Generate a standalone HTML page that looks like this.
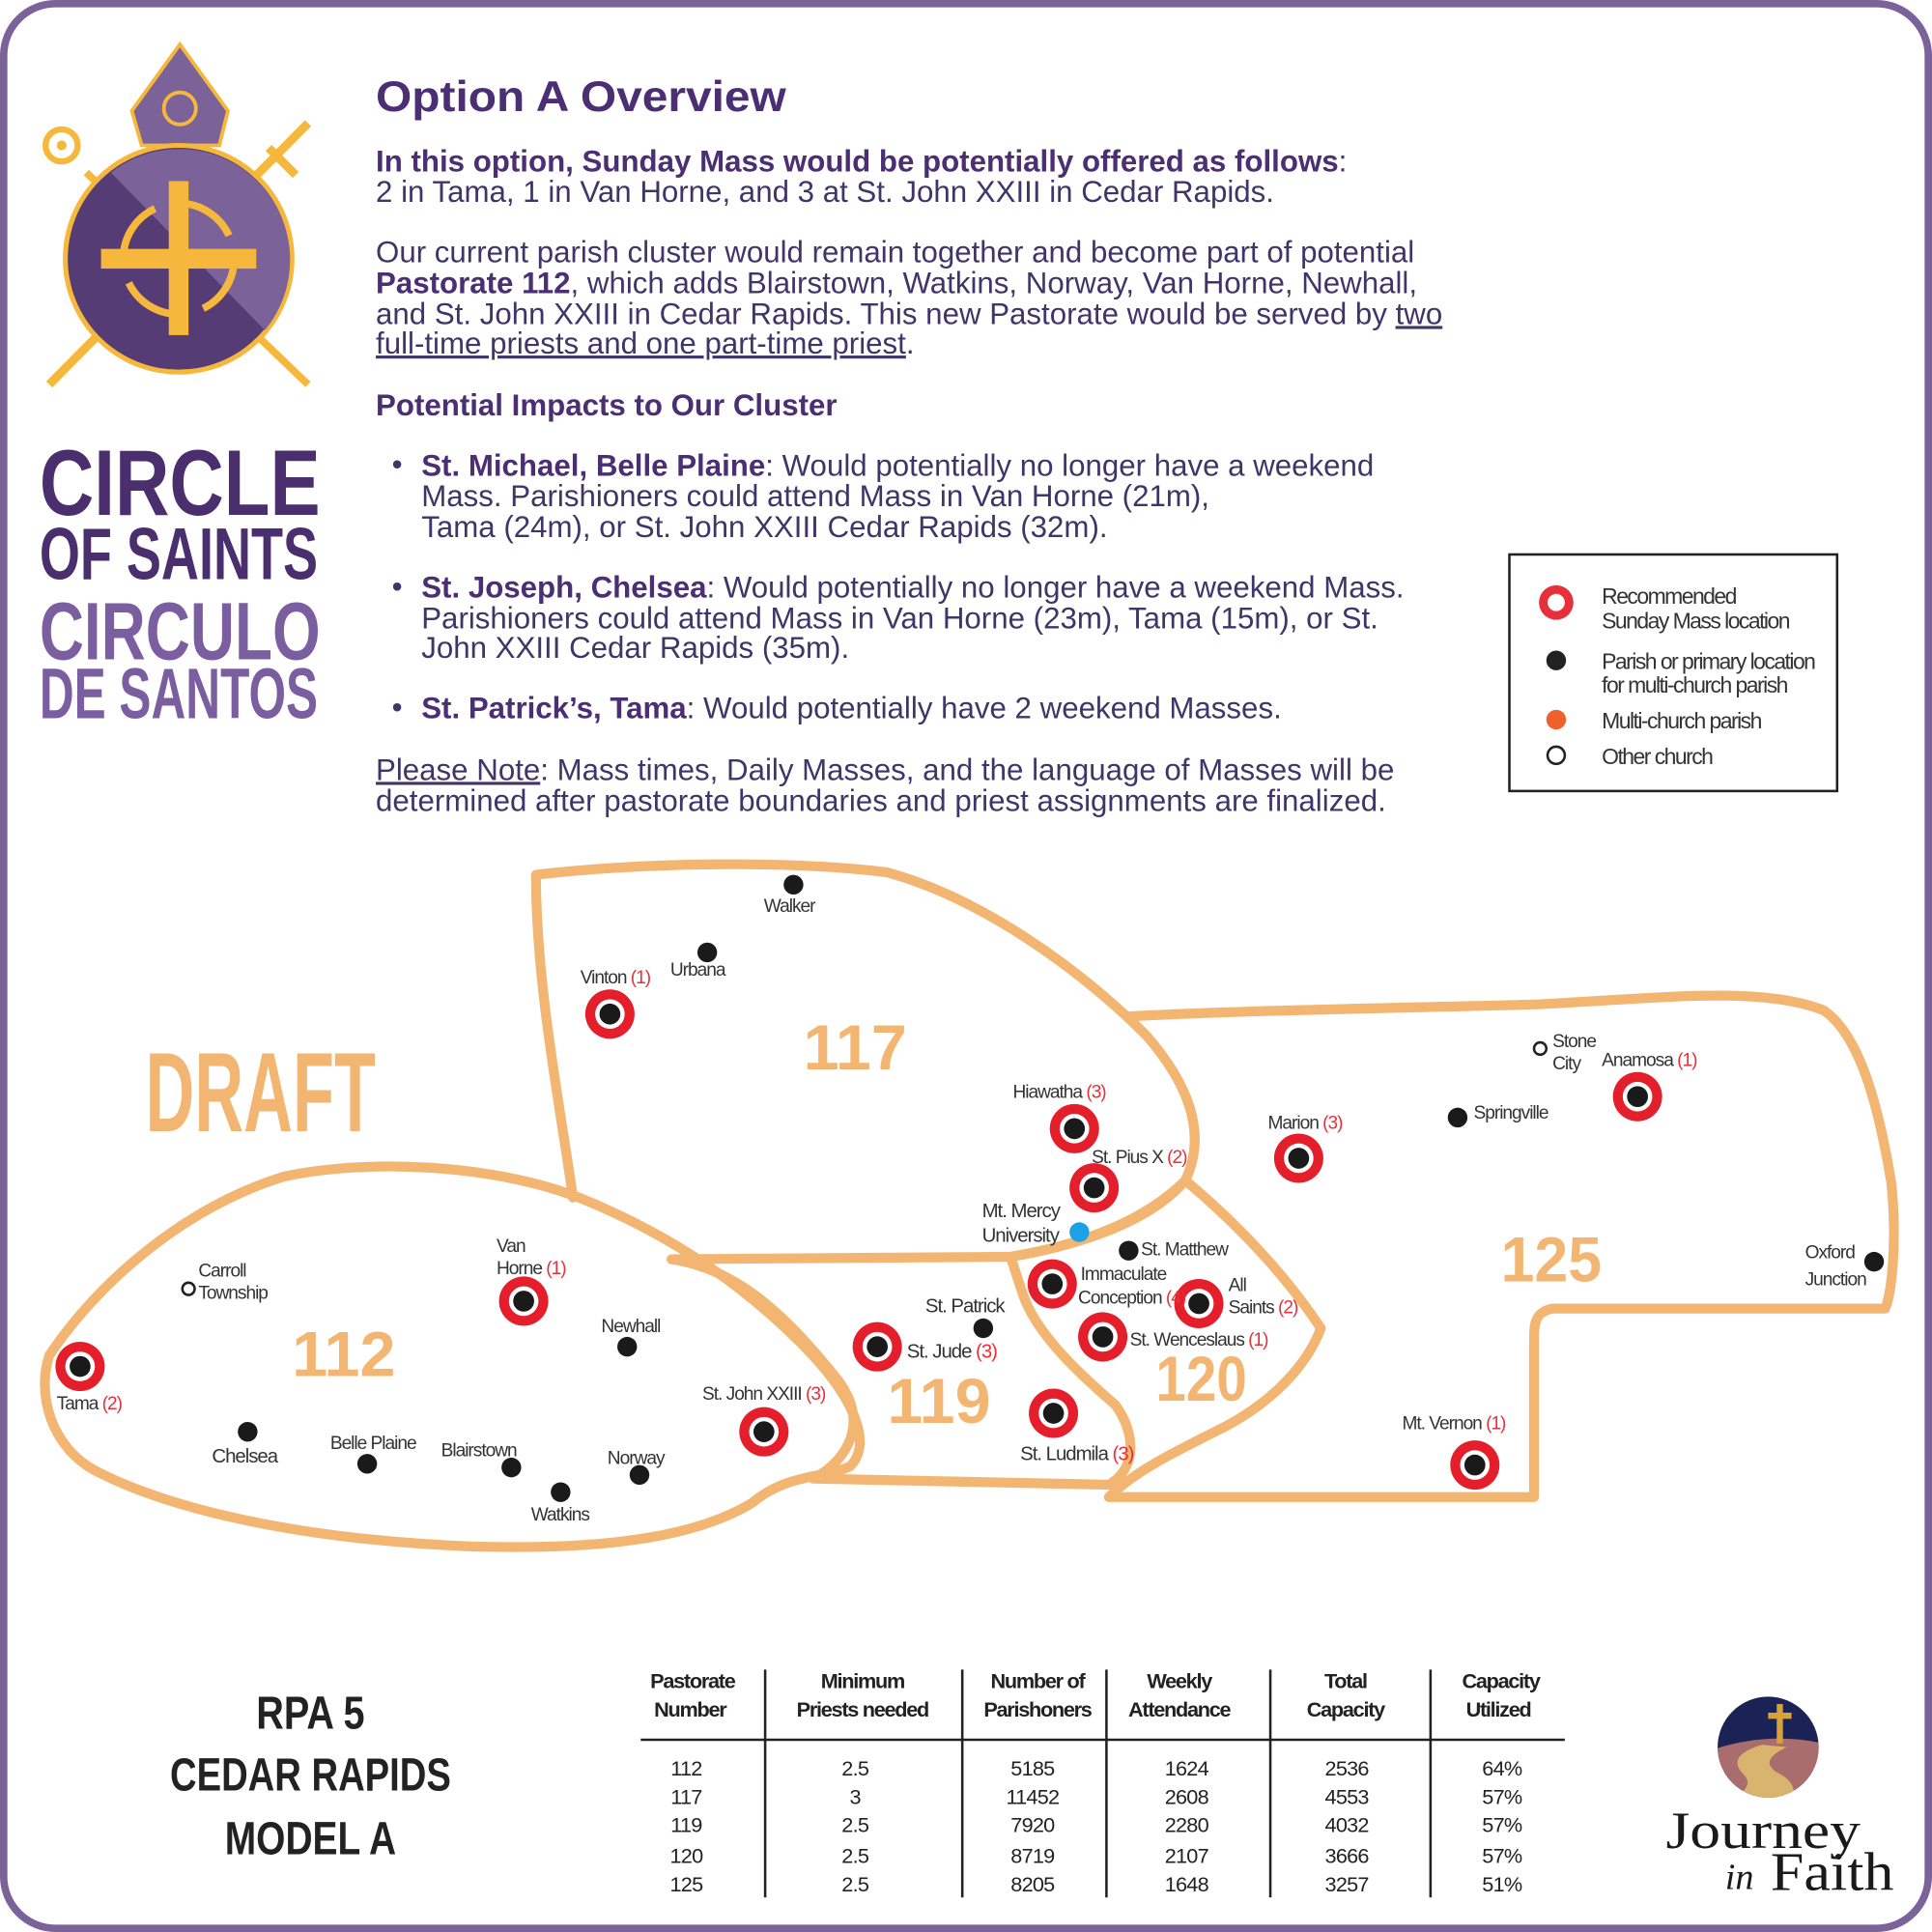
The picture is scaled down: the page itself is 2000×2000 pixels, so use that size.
<!DOCTYPE html>
<html><head><meta charset="utf-8"><style>
html,body{margin:0;padding:0;background:#fff}
svg{display:block}
.b{font-family:"Liberation Sans",sans-serif;fill:#3f3568;font-size:24.5px}
.h{font-weight:bold;fill:#4b2e73}
.n{font-family:"Liberation Sans Narrow","Liberation Sans",sans-serif;font-size:15px;fill:#333;letter-spacing:-0.8px}
.r{fill:#e8303a}
.big{font-family:"Liberation Sans Narrow","Liberation Sans",sans-serif;font-weight:bold;fill:#f3b672}
.t{font-family:"Liberation Sans Narrow","Liberation Sans",sans-serif;font-size:17px;fill:#222;letter-spacing:-0.6px}
.tb{font-weight:bold;letter-spacing:-1px}
</style></head><body>
<svg width="2000" height="2000" viewBox="0 0 1568 1568" xmlns="http://www.w3.org/2000/svg">
<rect x="3" y="3" width="1562" height="1562" rx="42" fill="#fff" stroke="#7a6399" stroke-width="6"/>

<!-- Logo -->
<g>
 <line x1="40" y1="312" x2="250" y2="100" stroke="#f6b83c" stroke-width="7"/>
 <line x1="218" y1="120" x2="240" y2="142" stroke="#f6b83c" stroke-width="7"/>
 <line x1="250" y1="312" x2="70" y2="140" stroke="#f6b83c" stroke-width="6"/>
 <circle cx="50" cy="118" r="13" fill="none" stroke="#f6b83c" stroke-width="5"/>
 <circle cx="50" cy="118" r="4" fill="#f6b83c"/>
 <polygon points="146,36 185,90 178,118 115,118 107,90" fill="#7b6299" stroke="#f6b83c" stroke-width="3"/>
 <circle cx="146" cy="88" r="13" fill="none" stroke="#f6b83c" stroke-width="3"/>
 <circle cx="145" cy="210" r="92" fill="#563c74" stroke="#f6b83c" stroke-width="4"/>
 <path d="M90,140 A90,90 0 0 1 215,268 Z" fill="#7b6299"/>
 <circle cx="145" cy="210" r="45" fill="none" stroke="#f6b83c" stroke-width="6" stroke-dasharray="50 21"/>
 <rect x="137" y="147" width="16" height="125" fill="#f6b83c"/>
 <rect x="82" y="202" width="126" height="16" fill="#f6b83c"/>
</g>
<text x="32" y="418" font-family="Liberation Sans Narrow,Liberation Sans,sans-serif" font-weight="bold" font-size="76" fill="#4b2e6e" textLength="228" lengthAdjust="spacingAndGlyphs">CIRCLE</text>
<text x="32" y="470" font-family="Liberation Sans Narrow,Liberation Sans,sans-serif" font-weight="bold" font-size="60" fill="#4b2e6e" textLength="226" lengthAdjust="spacingAndGlyphs">OF SAINTS</text>
<text x="32" y="535" font-family="Liberation Sans Narrow,Liberation Sans,sans-serif" font-weight="bold" font-size="66" fill="#7a5ea0" textLength="228" lengthAdjust="spacingAndGlyphs">CIRCULO</text>
<text x="32" y="583" font-family="Liberation Sans Narrow,Liberation Sans,sans-serif" font-weight="bold" font-size="58" fill="#7a5ea0" textLength="226" lengthAdjust="spacingAndGlyphs">DE SANTOS</text>

<!-- Text -->
<text x="305" y="90" class="b h" style="font-size:35px" textLength="333" lengthAdjust="spacingAndGlyphs">Option A Overview</text>
<text x="305" y="139" class="b"><tspan class="h">In this option, Sunday Mass would be potentially offered as follows</tspan>:</text>
<text x="305" y="164" class="b">2 in Tama, 1 in Van Horne, and 3 at St. John XXIII in Cedar Rapids.</text>
<text x="305" y="213" class="b">Our current parish cluster would remain together and become part of potential</text>
<text x="305" y="238" class="b"><tspan class="h">Pastorate 112</tspan>, which adds Blairstown, Watkins, Norway, Van Horne, Newhall,</text>
<text x="305" y="263" class="b">and St. John XXIII in Cedar Rapids. This new Pastorate would be served by <tspan text-decoration="underline">two</tspan></text>
<text x="305" y="287" class="b"><tspan text-decoration="underline">full-time priests and one part-time priest</tspan>.</text>
<text x="305" y="337" class="b h">Potential Impacts to Our Cluster</text>
<text x="318" y="385" class="b">•</text>
<text x="342" y="386" class="b"><tspan class="h">St. Michael, Belle Plaine</tspan>: Would potentially no longer have a weekend</text>
<text x="342" y="411" class="b">Mass. Parishioners could attend Mass in Van Horne (21m),</text>
<text x="342" y="436" class="b">Tama (24m), or St. John XXIII Cedar Rapids (32m).</text>
<text x="318" y="484" class="b">•</text>
<text x="342" y="485" class="b"><tspan class="h">St. Joseph, Chelsea</tspan>: Would potentially no longer have a weekend Mass.</text>
<text x="342" y="510" class="b">Parishioners could attend Mass in Van Horne (23m), Tama (15m), or St.</text>
<text x="342" y="534" class="b">John XXIII Cedar Rapids (35m).</text>
<text x="318" y="582" class="b">•</text>
<text x="342" y="583" class="b"><tspan class="h">St. Patrick’s, Tama</tspan>: Would potentially have 2 weekend Masses.</text>
<text x="305" y="633" class="b"><tspan text-decoration="underline">Please Note</tspan>: Mass times, Daily Masses, and the language of Masses will be</text>
<text x="305" y="658" class="b">determined after pastorate boundaries and priest assignments are finalized.</text>

<!-- Legend -->
<rect x="1225" y="450" width="266" height="192" fill="#fff" stroke="#222" stroke-width="2"/>
<circle cx="1263" cy="489" r="14" fill="#e8303a"/><circle cx="1263" cy="489" r="7" fill="#fff"/>
<circle cx="1263" cy="536" r="8" fill="#222"/>
<circle cx="1263" cy="584" r="8" fill="#f0602a"/>
<circle cx="1263" cy="613" r="7" fill="#fff" stroke="#222" stroke-width="2"/>
<g class="n" style="font-size:18px;letter-spacing:-1.2px">
<text x="1300" y="490">Recommended</text>
<text x="1300" y="510">Sunday Mass location</text>
<text x="1300" y="543">Parish or primary location</text>
<text x="1300" y="562">for multi-church parish</text>
<text x="1300" y="591">Multi-church parish</text>
<text x="1300" y="620">Other church</text>
</g>

<!-- Map outlines -->
<g fill="none" stroke="#f3b672" stroke-width="8" stroke-linejoin="round" stroke-linecap="round">
 <path d="M435,710 C520,700 640,698 720,708 C800,730 880,790 930,840 C965,880 980,920 962,958 C930,990 880,1010 820,1020 L545,1022 M465,972 C455,900 435,800 435,710"/>
 <path d="M40,1100 C80,1040 150,980 230,955 C300,940 400,945 470,972 C540,1000 600,1040 650,1090 C690,1130 710,1170 690,1190 C670,1200 640,1195 610,1220 C560,1250 480,1258 380,1255 C260,1250 150,1230 80,1195 C40,1175 30,1130 40,1100 Z"/>
 <path d="M545,1022 C600,1030 640,1070 680,1120 C710,1160 680,1190 660,1200 L900,1205 C925,1190 920,1160 905,1140 C870,1110 840,1080 830,1050 C825,1035 822,1025 820,1020"/>
 <path d="M820,1020 C880,1010 935,990 962,958 C1000,990 1040,1030 1072,1078 C1060,1110 1030,1140 990,1160 C950,1180 920,1195 900,1215"/>
 <path d="M915,825 C1000,820 1150,818 1250,815 C1350,810 1430,800 1480,820 C1510,840 1525,900 1535,960 C1540,1010 1535,1050 1530,1062 L1260,1062 C1245,1065 1245,1075 1245,1090 L1245,1215 L900,1215"/>
</g>
<text x="118" y="918" class="big" font-size="92" textLength="187" lengthAdjust="spacingAndGlyphs">DRAFT</text>
<text x="652" y="868" class="big" font-size="52" textLength="84" lengthAdjust="spacingAndGlyphs">117</text>
<text x="237" y="1117" class="big" font-size="52" textLength="84" lengthAdjust="spacingAndGlyphs">112</text>
<text x="720" y="1155" class="big" font-size="52" textLength="84" lengthAdjust="spacingAndGlyphs">119</text>
<text x="938" y="1137" class="big" font-size="52" textLength="74" lengthAdjust="spacingAndGlyphs">120</text>
<text x="1218" y="1040" class="big" font-size="52" textLength="82" lengthAdjust="spacingAndGlyphs">125</text>

<!-- markers -->
<g>
<g transform="translate(495,823)"><circle r="20" fill="#e41e2a"/><circle r="12" fill="#fff"/><circle r="8.5" fill="#1a1a1a"/></g>
<g transform="translate(872,916)"><circle r="20" fill="#e41e2a"/><circle r="12" fill="#fff"/><circle r="8.5" fill="#1a1a1a"/></g>
<g transform="translate(888,964)"><circle r="20" fill="#e41e2a"/><circle r="12" fill="#fff"/><circle r="8.5" fill="#1a1a1a"/></g>
<g transform="translate(1054,940)"><circle r="20" fill="#e41e2a"/><circle r="12" fill="#fff"/><circle r="8.5" fill="#1a1a1a"/></g>
<g transform="translate(1329,890)"><circle r="20" fill="#e41e2a"/><circle r="12" fill="#fff"/><circle r="8.5" fill="#1a1a1a"/></g>
<g transform="translate(854,1042)"><circle r="20" fill="#e41e2a"/><circle r="12" fill="#fff"/><circle r="8.5" fill="#1a1a1a"/></g>
<g transform="translate(973,1058)"><circle r="20" fill="#e41e2a"/><circle r="12" fill="#fff"/><circle r="8.5" fill="#1a1a1a"/></g>
<g transform="translate(895,1085)"><circle r="20" fill="#e41e2a"/><circle r="12" fill="#fff"/><circle r="8.5" fill="#1a1a1a"/></g>
<g transform="translate(855,1147)"><circle r="20" fill="#e41e2a"/><circle r="12" fill="#fff"/><circle r="8.5" fill="#1a1a1a"/></g>
<g transform="translate(712,1093)"><circle r="20" fill="#e41e2a"/><circle r="12" fill="#fff"/><circle r="8.5" fill="#1a1a1a"/></g>
<g transform="translate(620,1162)"><circle r="20" fill="#e41e2a"/><circle r="12" fill="#fff"/><circle r="8.5" fill="#1a1a1a"/></g>
<g transform="translate(425,1056)"><circle r="20" fill="#e41e2a"/><circle r="12" fill="#fff"/><circle r="8.5" fill="#1a1a1a"/></g>
<g transform="translate(65,1109)"><circle r="20" fill="#e41e2a"/><circle r="12" fill="#fff"/><circle r="8.5" fill="#1a1a1a"/></g>
<g transform="translate(1197,1189)"><circle r="20" fill="#e41e2a"/><circle r="12" fill="#fff"/><circle r="8.5" fill="#1a1a1a"/></g>
</g>
<g fill="#1a1a1a">
<circle cx="644" cy="718" r="8"/><circle cx="574" cy="773" r="8"/><circle cx="1183" cy="907" r="8"/>
<circle cx="916" cy="1015" r="8"/><circle cx="798" cy="1078" r="8"/><circle cx="509" cy="1093" r="8"/>
<circle cx="1521" cy="1024" r="8"/><circle cx="201" cy="1162" r="8"/><circle cx="298" cy="1188" r="8"/>
<circle cx="415" cy="1191" r="8"/><circle cx="455" cy="1211" r="8"/><circle cx="519" cy="1197" r="8"/>
</g>
<circle cx="876" cy="1000" r="8" fill="#1da1e6"/>
<circle cx="1250" cy="851" r="5" fill="#fff" stroke="#222" stroke-width="2"/>
<circle cx="153" cy="1046" r="5" fill="#fff" stroke="#222" stroke-width="2"/>

<g class="n">
<text x="620" y="740">Walker</text>
<text x="544" y="792">Urbana</text>
<text x="471" y="798">Vinton <tspan class="r">(1)</tspan></text>
<text x="822" y="891">Hiawatha <tspan class="r">(3)</tspan></text>
<text x="886" y="944">St. Pius X <tspan class="r">(2)</tspan></text>
<text x="797" y="988" style="font-size:16px">Mt. Mercy</text>
<text x="797" y="1008" style="font-size:16px">University</text>
<text x="926" y="1019">St. Matthew</text>
<text x="877" y="1039">Immaculate</text>
<text x="875" y="1058">Conception <tspan class="r">(4)</tspan></text>
<text x="997" y="1048">All</text>
<text x="997" y="1066">Saints <tspan class="r">(2)</tspan></text>
<text x="917" y="1092">St. Wenceslaus <tspan class="r">(1)</tspan></text>
<text x="828" y="1185" style="font-size:16px">St. Ludmila <tspan class="r">(3)</tspan></text>
<text x="751" y="1065" style="font-size:16px">St. Patrick</text>
<text x="736" y="1102" style="font-size:16px">St. Jude <tspan class="r">(3)</tspan></text>
<text x="570" y="1136">St. John XXIII <tspan class="r">(3)</tspan></text>
<text x="488" y="1081">Newhall</text>
<text x="403" y="1016">Van</text>
<text x="403" y="1034">Horne <tspan class="r">(1)</tspan></text>
<text x="161" y="1036">Carroll</text>
<text x="161" y="1054">Township</text>
<text x="46" y="1144">Tama <tspan class="r">(2)</tspan></text>
<text x="172" y="1187" style="font-size:16px">Chelsea</text>
<text x="268" y="1176">Belle Plaine</text>
<text x="358" y="1182">Blairstown</text>
<text x="493" y="1188">Norway</text>
<text x="431" y="1234">Watkins</text>
<text x="1029" y="916">Marion <tspan class="r">(3)</tspan></text>
<text x="1196" y="908">Springville</text>
<text x="1260" y="850">Stone</text>
<text x="1260" y="868">City</text>
<text x="1300" y="865">Anamosa <tspan class="r">(1)</tspan></text>
<text x="1465" y="1021">Oxford</text>
<text x="1465" y="1043">Junction</text>
<text x="1138" y="1160">Mt. Vernon <tspan class="r">(1)</tspan></text>
</g>

<!-- RPA -->
<g font-family="Liberation Sans Narrow,Liberation Sans,sans-serif" font-weight="bold" font-size="38" fill="#222" text-anchor="middle">
<text x="252" y="1403" textLength="88" lengthAdjust="spacingAndGlyphs">RPA 5</text>
<text x="252" y="1453" textLength="228" lengthAdjust="spacingAndGlyphs">CEDAR RAPIDS</text>
<text x="252" y="1505" textLength="139" lengthAdjust="spacingAndGlyphs">MODEL A</text>
</g>

<!-- Table -->
<g stroke="#222" stroke-width="2">
<line x1="520" y1="1412" x2="1270" y2="1412"/>
<line x1="621" y1="1355" x2="621" y2="1540"/>
<line x1="781" y1="1355" x2="781" y2="1540"/>
<line x1="898" y1="1355" x2="898" y2="1540"/>
<line x1="1031" y1="1355" x2="1031" y2="1540"/>
<line x1="1161" y1="1355" x2="1161" y2="1540"/>
</g>
<g class="t tb" text-anchor="middle">
<text x="562" y="1370">Pastorate</text><text x="560" y="1393">Number</text>
<text x="700" y="1370">Minimum</text><text x="700" y="1393">Priests needed</text>
<text x="842" y="1370">Number of</text><text x="842" y="1393">Parishoners</text>
<text x="957" y="1370">Weekly</text><text x="957" y="1393">Attendance</text>
<text x="1092" y="1370">Total</text><text x="1092" y="1393">Capacity</text>
<text x="1218" y="1370">Capacity</text><text x="1216" y="1393">Utilized</text>
</g>
<g class="t" text-anchor="middle">
<text x="557" y="1441">112</text><text x="694" y="1441">2.5</text><text x="838" y="1441">5185</text><text x="963" y="1441">1624</text><text x="1093" y="1441">2536</text><text x="1219" y="1441">64%</text>
<text x="557" y="1464">117</text><text x="694" y="1464">3</text><text x="838" y="1464">11452</text><text x="963" y="1464">2608</text><text x="1093" y="1464">4553</text><text x="1219" y="1464">57%</text>
<text x="557" y="1487">119</text><text x="694" y="1487">2.5</text><text x="838" y="1487">7920</text><text x="963" y="1487">2280</text><text x="1093" y="1487">4032</text><text x="1219" y="1487">57%</text>
<text x="557" y="1512">120</text><text x="694" y="1512">2.5</text><text x="838" y="1512">8719</text><text x="963" y="1512">2107</text><text x="1093" y="1512">3666</text><text x="1219" y="1512">57%</text>
<text x="557" y="1535">125</text><text x="694" y="1535">2.5</text><text x="838" y="1535">8205</text><text x="963" y="1535">1648</text><text x="1093" y="1535">3257</text><text x="1219" y="1535">51%</text>
</g>

<!-- Journey in Faith -->
<defs><clipPath id="jc"><circle cx="1435" cy="1418" r="41"/></clipPath></defs>
<g clip-path="url(#jc)">
<rect x="1390" y="1375" width="90" height="90" fill="#1b2356"/>
<path d="M1390,1420 Q1435,1405 1480,1415 L1480,1465 L1390,1465 Z" fill="#a86d6c"/>
<path d="M1430,1416 Q1400,1425 1415,1440 Q1425,1450 1405,1460 L1455,1465 Q1460,1448 1445,1440 Q1425,1430 1450,1418 Z" fill="#d8b46e"/>
</g>
<rect x="1442" y="1383" width="5" height="32" fill="#d8a23a"/>
<rect x="1435" y="1390" width="19" height="5" fill="#d8a23a"/>
<text x="1352" y="1500" font-family="Liberation Serif,serif" font-size="42" fill="#1a1a1a" textLength="158" lengthAdjust="spacingAndGlyphs">Journey</text>
<text x="1400" y="1533" font-family="Liberation Serif,serif" font-style="italic" font-size="30" fill="#1a1a1a">in</text>
<text x="1437" y="1534" font-family="Liberation Serif,serif" font-size="44" fill="#1a1a1a" textLength="100" lengthAdjust="spacingAndGlyphs">Faith</text>
</svg>
</body></html>
